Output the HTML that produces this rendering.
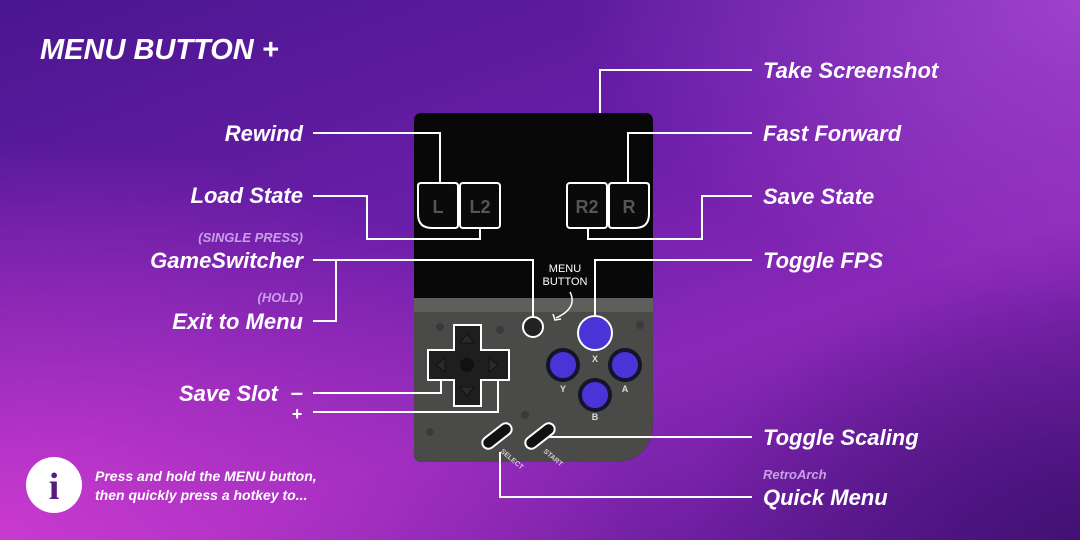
<!DOCTYPE html>
<html><head><meta charset="utf-8"><style>
html,body{margin:0;padding:0}
body{width:1080px;height:540px;overflow:hidden;position:relative;font-family:"Liberation Sans",sans-serif;
background:linear-gradient(160deg,#4a1690 0%,#6a1ea8 40%,#8a28b8 65%,#5a1890 100%);}
.ov1{position:absolute;inset:0;background:radial-gradient(ellipse 650px 400px at 0% 100%,rgba(210,60,210,0.9),rgba(210,60,210,0) 100%);}
.ov2{position:absolute;inset:0;background:radial-gradient(ellipse 500px 300px at 100% 0%,rgba(180,80,220,0.7),rgba(180,80,220,0) 100%);}
.ov3{position:absolute;inset:0;background:radial-gradient(ellipse 400px 260px at 100% 100%,rgba(60,15,110,0.8),rgba(60,15,110,0) 100%);}
svg{position:absolute;left:0;top:0}
.t{font-weight:bold;font-style:italic;fill:#fff;font-size:22px}
.s{font-weight:bold;font-style:italic;fill:#c9a0e6;font-size:13px}
</style></head><body>
<div class="ov1"></div><div class="ov2"></div><div class="ov3"></div>
<svg width="1080" height="540" viewBox="0 0 1080 540">
<path d="M422 113 H645 Q653 113 653 121 V420 Q653 462 611 462 H422 Q414 462 414 454 V121 Q414 113 422 113Z" fill="#080808"/>
<path d="M414 298 H653 V420 Q653 462 611 462 H422 Q414 462 414 454Z" fill="#4a4a48"/>
<rect x="414" y="298" width="239" height="14" fill="#5e5e5a"/>
<g fill="#3a3a3a"><circle cx="440" cy="327" r="4"/><circle cx="500" cy="330" r="4"/><circle cx="640" cy="325" r="4"/><circle cx="430" cy="432" r="4"/><circle cx="525" cy="415" r="4"/></g>
<g fill="none" stroke="#fff" stroke-width="2">
<path d="M418 186 Q418 183 421 183 H455 Q458 183 458 186 V225 Q458 228 455 228 H432 Q418 228 418 214Z" fill="#0a0a0a"/>
<rect x="460" y="183" width="40" height="45" rx="3" fill="#0a0a0a"/>
<rect x="567" y="183" width="40" height="45" rx="3" fill="#0a0a0a"/>
<path d="M609 186 Q609 183 612 183 H646 Q649 183 649 186 V214 Q649 228 635 228 H612 Q609 228 609 225Z" fill="#0a0a0a"/>
<path d="M454 325 H481 V350 H509 V380 H481 V406 H454 V380 H428 V350 H454Z" fill="#1e1e1e"/>
<circle cx="533" cy="327" r="10" fill="#222"/>
<circle cx="595" cy="333" r="17" fill="#4a34d8"/>
</g>
<g font-weight="bold" fill="#555" font-size="18" text-anchor="middle"><text x="438" y="213">L</text><text x="480" y="213">L2</text><text x="587" y="213">R2</text><text x="629" y="213">R</text></g>
<g fill="#4a34d8" stroke="#14142a" stroke-width="4"><circle cx="563" cy="365" r="15"/><circle cx="625" cy="365" r="15"/><circle cx="595" cy="395" r="15"/></g>
<g fill="#ddd" font-size="9" font-weight="bold" text-anchor="middle"><text x="595" y="362">X</text><text x="563" y="392">Y</text><text x="625" y="392">A</text><text x="595" y="420">B</text></g>
<circle cx="467" cy="365" r="7" fill="#111"/>
<g fill="#2a2a2a" stroke="#111"><path d="M467 334 l-7 9 h14z"/><path d="M467 396 l-7 -9 h14z"/><path d="M436 365 l9 -7 v14z"/><path d="M498 365 l-9 -7 v14z"/></g>
<g fill="#111" stroke="#fff" stroke-width="2">
<rect x="480" y="430" width="34" height="12" rx="6" transform="rotate(-38 497 436)"/>
<rect x="523" y="430" width="34" height="12" rx="6" transform="rotate(-38 540 436)"/>
</g>
<g fill="#ccc" font-size="7" font-weight="bold"><text x="500" y="452" transform="rotate(40 500 452)">SELECT</text><text x="543" y="452" transform="rotate(40 543 452)">START</text></g>
<g fill="#fff" font-size="11" text-anchor="middle"><text x="565" y="272">MENU</text><text x="565" y="285">BUTTON</text></g>
<path d="M570 292 Q578 308 556 318" stroke="#fff" stroke-width="1.5" fill="none"/>
<path d="M553 314 l2 6 6 -1" stroke="#fff" stroke-width="1.5" fill="none"/>
<g fill="none" stroke="#fff" stroke-width="2">
<path d="M313 133 H440 V183"/>
<path d="M313 196 H367 V239 H480 V228"/>
<path d="M313 260 H533 V317"/>
<path d="M313 321 H336 V260"/>
<path d="M313 393 H441 V380"/>
<path d="M313 412 H498 V380"/>
<path d="M752 70 H600 V113"/>
<path d="M752 133 H628 V183"/>
<path d="M752 196 H702 V239 H588 V228"/>
<path d="M752 260 H595 V316"/>
<path d="M752 437 H548"/>
<path d="M752 497 H500 V452"/>
</g>
<text x="40" y="59" fill="#fff" font-size="29" font-weight="bold" font-style="italic">MENU BUTTON +</text>
<g class="t" text-anchor="end">
<text x="303" y="141">Rewind</text>
<text x="303" y="203">Load State</text>
<text x="303" y="268">GameSwitcher</text>
<text x="303" y="329">Exit to Menu</text>
<text x="278" y="401">Save Slot</text>
<text x="303" y="400">–</text>
<text x="302" y="420" font-size="18">+</text>
</g>
<g class="s" text-anchor="end"><text x="303" y="242">(SINGLE PRESS)</text><text x="303" y="302">(HOLD)</text></g>
<g class="t">
<text x="763" y="78">Take Screenshot</text>
<text x="763" y="141">Fast Forward</text>
<text x="763" y="204">Save State</text>
<text x="763" y="268">Toggle FPS</text>
<text x="763" y="445">Toggle Scaling</text>
<text x="763" y="505">Quick Menu</text>
</g>
<text x="763" y="479" class="s">RetroArch</text>
<circle cx="54" cy="485" r="28" fill="#fff"/>
<text x="54" y="499" text-anchor="middle" font-family="Liberation Serif" font-weight="bold" font-size="38" fill="#5a1a80">i</text>
<g fill="#fff" font-size="14" font-weight="bold" font-style="italic"><text x="95" y="481">Press and hold the MENU button,</text><text x="95" y="500">then quickly press a hotkey to...</text></g>
</svg>
</body></html>
